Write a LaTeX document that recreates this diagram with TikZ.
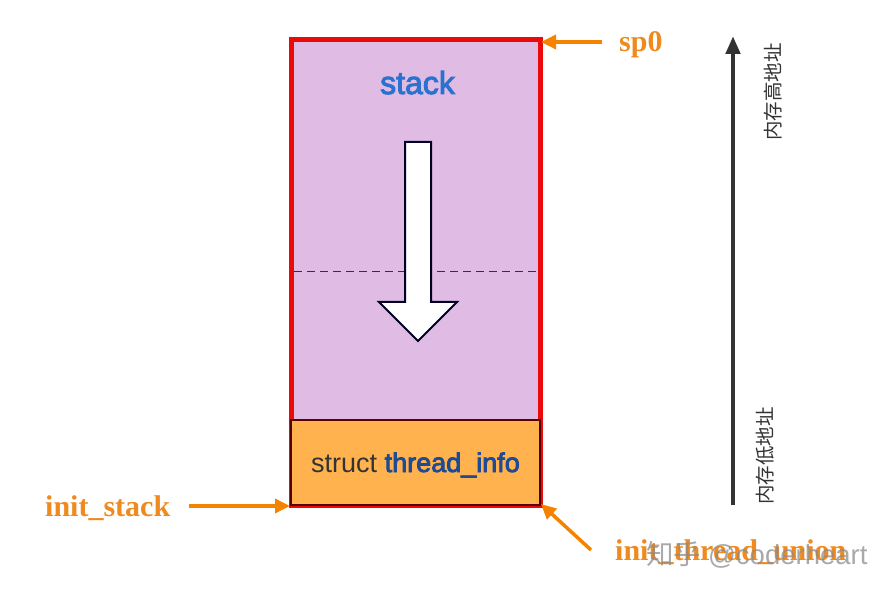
\documentclass[tikz,border=0pt]{standalone}
\usepackage{fontspec}
\setmainfont{Liberation Serif}
\newfontfamily\cjkfont{Noto Sans CJK SC}
\newfontfamily\uifont{Liberation Sans}
\newfontfamily\uiboldfont[FakeBold=3]{Liberation Sans}
\usetikzlibrary{arrows.meta}
\definecolor{stackfill}{HTML}{E0BBE4}
\definecolor{infofill}{HTML}{FFB24D}
\definecolor{labelorange}{HTML}{EE8A1E}
\definecolor{arroworange}{HTML}{F58300}
\definecolor{stackblue}{HTML}{2A72D0}
\definecolor{infoblue}{HTML}{1F4A94}
\definecolor{darkline}{HTML}{333333}
\definecolor{stackred}{HTML}{EA0A0A}
\tikzset{
  pointer/.style={draw=arroworange,line width=3.5pt,-{Triangle[length=15pt,width=14pt]}},
  orangelabel/.style={text=labelorange,font=\fontsize{30}{30}\selectfont\bfseries,inner sep=0pt,anchor=base west},
  memlabel/.style={text=darkline,font=\fontsize{19.5}{19.5}\cjkfont,rotate=90,inner sep=0pt},
}
\begin{document}
\begin{tikzpicture}[x=1pt,y=-1pt]
  \useasboundingbox (0,0) rectangle (891,593);
  % boxes
  \draw[fill=stackfill,draw=stackred,line width=5pt] (291,40) rectangle (540,505);
  \draw[fill=infofill,draw=black!65!red,line width=2pt] (291,420) rectangle (540,505);
  % dashed line
  \coordinate (dashL) at (294,272);
  \coordinate (dashR) at (537,272);
  \draw[draw=black!75!stackfill,line width=1pt,dash pattern=on 8pt off 5pt] (dashL)--(dashR);
  % growth arrow
  \draw[fill=white,draw=black!85!blue,line width=2pt]
    (405,142)--(431,142)--(431,302)--(457,302)--(418,341)--(379,302)--(405,302)--cycle;
  % texts
  \node[text=stackblue,font=\fontsize{32}{32}\uiboldfont,inner sep=0pt,anchor=base] (stacktext) at (417.5,94) {stack};
  \node[font=\fontsize{27}{27}\uifont,inner sep=0pt,anchor=base west] (infotext) at (311,472)
    {\textcolor{darkline}{struct} \textcolor{infoblue}{\uiboldfont thread\_info}};
  \node[orangelabel] (sptext) at (619,52) {sp0};
  \node[orangelabel] (stacklabel) at (45,516) {init\_stack};
  \node[orangelabel] (unionlabel) at (615,560) {init\_thread\_union};
  \node[memlabel] (hightext) at (773,92) {内存高地址};
  \node[memlabel] (lowtext) at (765,456) {内存低地址};
  % pointers
  \coordinate (spfrom) at (602,42);
  \coordinate (spto) at (541,42);
  \coordinate (stackfrom) at (189,506);
  \coordinate (stackto) at (290,506);
  \coordinate (unionfrom) at (591,550);
  \coordinate (unionto) at (541,504);
  \draw[pointer] (spfrom)--(spto);
  \draw[pointer] (stackfrom)--(stackto);
  \draw[pointer] (unionfrom)--(unionto);
  % address axis
  \coordinate (axisfrom) at (733,505);
  \coordinate (axisto) at (733,36);
  \draw[darkline,line width=4.5pt,-{Triangle[length=18pt,width=14pt]}] (axisfrom)--(axisto);
  % watermark
  \node[text=black!45,opacity=0.75,font=\fontsize{27.5}{27.5}\selectfont,inner sep=0pt,anchor=west] (marktext) at (646,555)
    {{\cjkfont 知乎} {\uifont @coderheart}};
\end{tikzpicture}
\end{document}
